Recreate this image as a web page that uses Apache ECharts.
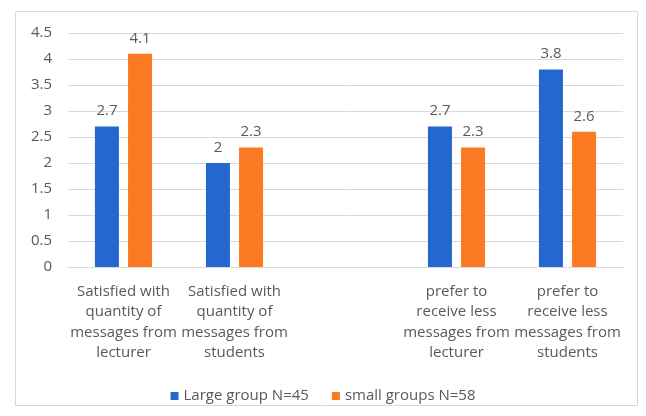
<!DOCTYPE html>
<html>
<head>
<meta charset="utf-8">
<script src="https://cdn.jsdelivr.net/npm/echarts@6/dist/echarts.min.js"></script>
<style>
  html, body { margin: 0; padding: 0; background: #fff; }
  #chart { width: 646px; height: 416px; }
</style>
</head>
<body>
<div id="chart"></div>
<script>
const categories = [
  'Satisfied with\nquantity of\nmessages from\nlecturer',
  'Satisfied with\nquantity of\nmessages from\nstudents',
  '',
  'prefer to\nreceive less\nmessages from\nlecturer',
  'prefer to\nreceive less\nmessages from\nstudents'
];
const largeGroup = [2.7, 2, '-', 2.7, 3.8];
const smallGroups = [4.1, 2.3, '-', 2.3, 2.6];
const seriesNames = ['Large group N=45', 'small groups N=58'];

const FONT = 'Open Sans';
const TXT = '#595959';

const chart = echarts.init(document.getElementById('chart'), null, { renderer: 'canvas' });

const barLabel = {
  show: true,
  position: 'top',
  distance: 8,
  color: TXT,
  fontFamily: FONT,
  fontSize: 15
};

chart.setOption({
  animation: false,
  textStyle: { fontFamily: FONT },
  graphic: [{
    type: 'rect',
    shape: { x: 15.5, y: 11.5, width: 622, height: 394 },
    style: { fill: 'none', stroke: '#d9d9d9', lineWidth: 1 },
    silent: true
  }],
  grid: { left: 68, right: 23, top: 33, bottom: 149 },
  legend: {
    top: 383,
    left: 'center',
    itemWidth: 8,
    itemHeight: 8,
    itemGap: 23,
    icon: 'rect',
    textStyle: { color: TXT, fontFamily: FONT, fontSize: 15, lineHeight: 16 }
  },
  xAxis: {
    type: 'category',
    data: categories,
    axisLine: { lineStyle: { color: '#d9d9d9' } },
    axisTick: { show: false },
    axisLabel: {
      interval: 0,
      color: TXT,
      fontFamily: FONT,
      fontSize: 15,
      lineHeight: 20.5,
      margin: 14
    }
  },
  yAxis: {
    type: 'value',
    min: 0,
    max: 4.5,
    interval: 0.5,
    axisLine: { show: false },
    axisTick: { show: false },
    splitLine: { lineStyle: { color: '#d9d9d9' } },
    axisLabel: { color: TXT, fontFamily: FONT, fontSize: 15, margin: 16 }
  },
  series: [
    {
      name: seriesNames[0],
      type: 'bar',
      data: largeGroup,
      barWidth: 24,
      barGap: '38%',
      itemStyle: { color: '#2468cf' },
      label: barLabel
    },
    {
      name: seriesNames[1],
      type: 'bar',
      data: smallGroups,
      barWidth: 24,
      itemStyle: { color: '#fb7a23' },
      label: barLabel
    }
  ]
});
</script>
</body>
</html>
